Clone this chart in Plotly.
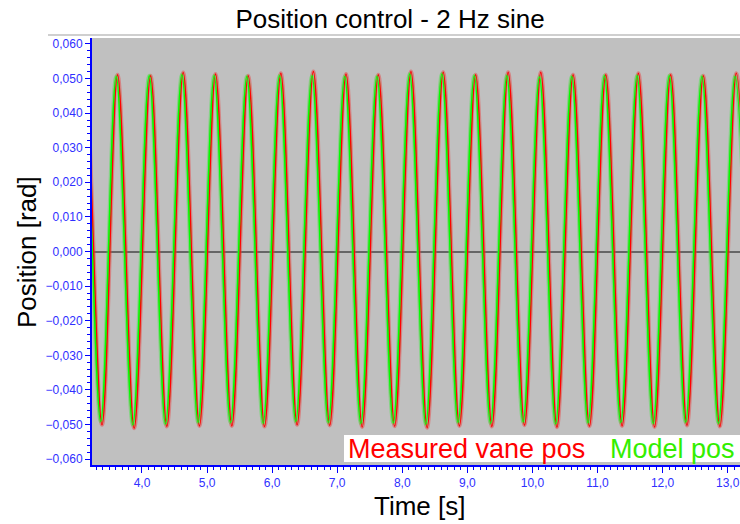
import plotly.graph_objects as go

# ---- data ----
measured_peak_t = [3.125, 3.625, 4.132, 4.634, 5.130, 5.632, 6.134, 6.634, 7.136, 7.632,
                   8.134, 8.629, 9.127, 9.627, 10.129, 10.625, 11.127, 11.629, 12.124, 12.626, 13.133]
measured_peak_v = [0.0512, 0.0511, 0.0508, 0.0517, 0.0513, 0.0508, 0.0515, 0.0520, 0.0513, 0.0511,
                   0.0520, 0.0518, 0.0511, 0.0518, 0.0518, 0.0511, 0.0511, 0.0515, 0.0511, 0.0508, 0.0515]
measured_trough_t = [2.880, 3.386, 3.880, 4.382, 4.883, 5.381, 5.883, 6.384, 6.885, 7.384, 7.883,
                     8.382, 8.878, 9.377, 9.878, 10.377, 10.876, 11.378, 11.877, 12.375, 12.880, 13.383]
measured_trough_v = [-0.0505, -0.0501, -0.0511, -0.0506, -0.0504, -0.0504, -0.0506, -0.0501, -0.0503,
                     -0.0507, -0.0505, -0.0509, -0.0504, -0.0506, -0.0502, -0.0508, -0.0505, -0.0504,
                     -0.0507, -0.0503, -0.0506, -0.0505]

model_peak_t = [3.105, 3.605, 4.112, 4.614, 5.110, 5.612, 6.114, 6.614, 7.116, 7.612,
                8.114, 8.609, 9.107, 9.607, 10.109, 10.605, 11.107, 11.609, 12.104, 12.606, 13.113]
model_peak_v = [0.0507, 0.0506, 0.0508, 0.0511, 0.0508, 0.0506, 0.0508, 0.0508, 0.0506, 0.0506,
                0.0513, 0.0513, 0.0508, 0.0508, 0.0504, 0.0506, 0.0508, 0.0508, 0.0508, 0.0506, 0.0506]
model_trough_t = [2.860, 3.366, 3.860, 4.362, 4.863, 5.361, 5.863, 6.364, 6.865, 7.364, 7.863,
                  8.362, 8.858, 9.357, 9.858, 10.357, 10.856, 11.358, 11.857, 12.355, 12.860, 13.363]
model_trough_v = [-0.0495, -0.0491, -0.0501, -0.0498, -0.0494, -0.0494, -0.0496, -0.0491, -0.0494,
                  -0.0497, -0.0495, -0.0499, -0.0494, -0.0496, -0.0492, -0.0498, -0.0495, -0.0494,
                  -0.0497, -0.0493, -0.0496, -0.0495]

x_ticks = [4.0, 5.0, 6.0, 7.0, 8.0, 9.0, 10.0, 11.0, 12.0, 13.0]
y_ticks = [-0.06, -0.05, -0.04, -0.03, -0.02, -0.01, 0.0, 0.01, 0.02, 0.03, 0.04, 0.05, 0.06]


def interleave(tt, tv, pt, pv):
    t, v = [], []
    for i in range(len(tt)):
        t.append(tt[i]); v.append(tv[i])
        if i < len(pt):
            t.append(pt[i]); v.append(pv[i])
    return t, v


mt, mv = interleave(measured_trough_t, measured_trough_v, measured_peak_t, measured_peak_v)
gt, gv = interleave(model_trough_t, model_trough_v, model_peak_t, model_peak_v)

fig = go.Figure()
fig.add_trace(go.Scatter(x=mt, y=mv, mode="lines", line=dict(color="rgba(235,60,60,0.45)", width=4, shape="spline"),
                         hoverinfo="skip", showlegend=False))
fig.add_trace(go.Scatter(x=gt, y=gv, mode="lines", line=dict(color="rgba(60,235,60,0.45)", width=4, shape="spline"),
                         hoverinfo="skip", showlegend=False))
fig.add_trace(go.Scatter(x=mt, y=mv, mode="lines", name="Measured vane pos",
                         line=dict(color="#ff0000", width=1.5, shape="spline")))
fig.add_trace(go.Scatter(x=gt, y=gv, mode="lines", name="Model pos",
                         line=dict(color="#00ff00", width=1.5, shape="spline")))

W, H = 740, 524
PL, PR, PT, PB = 92, 740, 38, 465          # plot area in window pixels
L, R, T, B = PL, W - PR, PT, H - PB
pw, ph = PR - PL, PB - PT


def px(x):
    return (x - PL) / pw


def py(y):
    return (PB - y) / ph


FONT = "Liberation Sans, Arial, sans-serif"
tickfont = dict(family=FONT, size=12, color="#2f2fff")

fig.update_layout(
    width=W, height=H,
    margin=dict(l=L, r=R, t=T, b=B, pad=0),
    paper_bgcolor="white", plot_bgcolor="#c0c0c0",
    separators=",.",
    showlegend=False,
    font=dict(family=FONT, color="black"),
    title=dict(text="Position control - 2 Hz sine", x=390 / W, xref="container", xanchor="center",
               y=1 - 19 / H, yref="container", yanchor="middle",
               font=dict(size=26, color="black", family=FONT)),
    xaxis=dict(range=[3.232, 13.19], tickvals=x_ticks, tickformat=".1f", ticks="outside", ticklen=6,
               tickcolor="#0000ff", tickwidth=1, showline=True, linecolor="#0000ff", linewidth=2,
               showgrid=False, zeroline=False, tickfont=tickfont,
               minor=dict(dtick=0.1, ticks="outside", ticklen=3, tickcolor="#0000ff", showgrid=False)),
    yaxis=dict(range=[-0.0617, 0.0617], tickvals=y_ticks, tickformat=".3f", ticks="outside", ticklen=5,
               tickcolor="#0000ff", tickwidth=1, showline=True, linecolor="#0000ff", linewidth=2,
               showgrid=False, zeroline=True, zerolinecolor="#666666", zerolinewidth=2, tickfont=tickfont,
               minor=dict(dtick=0.002, ticks="outside", ticklen=3, tickcolor="#0000ff", showgrid=False)),
)

# frame line under the title
fig.add_shape(type="line", xref="paper", yref="paper", x0=px(48), x1=1, y0=py(35), y1=py(35),
              line=dict(color="#cfcfcf", width=2), layer="below")
# legend box
fig.add_shape(type="rect", xref="paper", yref="paper", x0=px(344), x1=1.0, y0=py(462), y1=py(435),
              fillcolor="white", line=dict(width=0), layer="above")
fig.add_annotation(text="Measured vane pos", xref="paper", yref="paper", x=px(346), y=py(449),
                   xanchor="left", yanchor="middle", showarrow=False,
                   font=dict(size=27, color="#ff0000", family=FONT))
fig.add_annotation(text="Model pos", xref="paper", yref="paper", x=px(608), y=py(449),
                   xanchor="left", yanchor="middle", showarrow=False,
                   font=dict(size=27, color="#33ee00", family=FONT))
# axis titles
fig.add_annotation(text="Position [rad]", xref="paper", yref="paper", x=px(27), y=py(252),
                   xanchor="center", yanchor="middle", textangle=-90, showarrow=False,
                   font=dict(size=26, color="black", family=FONT))
fig.add_annotation(text="Time [s]", xref="paper", yref="paper", x=px(419), y=py(506),
                   xanchor="center", yanchor="middle", showarrow=False,
                   font=dict(size=26, color="black", family=FONT))

fig.write_html(
    "out.html",
    config={"displayModeBar": False},
    post_script="document.body.style.margin='0';document.body.style.overflow='hidden';",
)
